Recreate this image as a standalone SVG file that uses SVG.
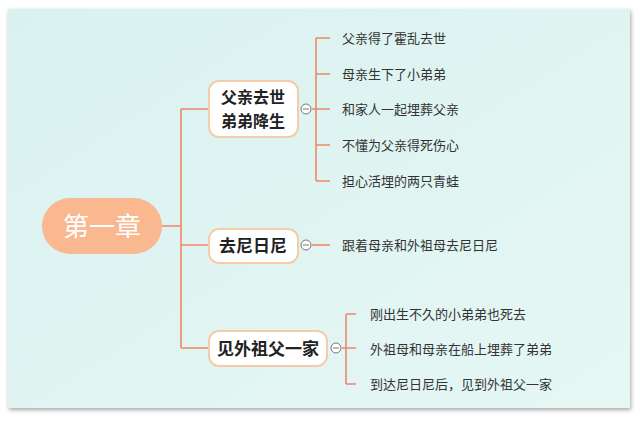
<svg xmlns="http://www.w3.org/2000/svg" width="640" height="424" viewBox="0 0 640 424">
<defs>
<linearGradient id="bg" x1="0" y1="0" x2="1" y2="1"><stop offset="0" stop-color="#d9f2f0"/><stop offset="1" stop-color="#e6f7f4"/></linearGradient>
<filter id="sh" x="-5%" y="-5%" width="110%" height="110%"><feDropShadow dx="1" dy="2" stdDeviation="2" flood-color="#000" flood-opacity="0.35"/></filter>
</defs>
<style>
.ln{stroke:#ef8766;stroke-width:1.6;fill:none}
.box{fill:#fff;stroke:#f5cba8;stroke-width:2}
.t1{font-family:"Noto Sans CJK SC",sans-serif;font-size:17px;font-weight:bold;fill:#222;text-anchor:middle}
.t2{font-family:"Noto Sans CJK SC",sans-serif;font-size:13px;fill:#333}
.cc{fill:#fff;stroke:#777;stroke-width:1}
</style>
<rect width="640" height="424" fill="#fff"/>
<rect x="8" y="9" width="622" height="399" fill="url(#bg)" filter="url(#sh)"/>
<g id="connectors">
<path class="ln" d="M162 226H181M181 109V348M181 109H209M181 245H209M181 348H209"/>
<path class="ln" d="M312 109H330M316 38V181M316 38H330M316 74H330M316 145H330M316 181H330"/>
<path class="ln" d="M312 245H330"/>
<path class="ln" d="M342 348H356M346 314V384M346 314H356M346 384H356"/>
</g>
<g id="root"><rect x="42" y="198" width="120" height="56" rx="28" fill="#f9b88f"/><text x="102" y="236" font-family="Noto Sans CJK SC,sans-serif" font-size="26" fill="#fff" text-anchor="middle">第一章</text></g>
<g id="n1"><rect class="box" x="209" y="81" width="89" height="56" rx="10"/><text class="t1" x="253" y="103" style="font-size:16px">父亲去世</text><text class="t1" x="253" y="127" style="font-size:16px">弟弟降生</text><circle class="cc" cx="306" cy="109" r="5"/><path d="M303 109H309" stroke="#777"/></g>
<g id="n2"><rect class="box" x="209" y="229" width="89" height="34" rx="10"/><text class="t1" x="253" y="252">去尼日尼</text><circle class="cc" cx="306" cy="245" r="5"/><path d="M303 245H309" stroke="#777"/></g>
<g id="n3"><rect class="box" x="209" y="331" width="118" height="35" rx="10"/><text class="t1" x="268" y="355">见外祖父一家</text><circle class="cc" cx="336" cy="348" r="5"/><path d="M333 348H339" stroke="#777"/></g>
<g id="leaves">
<text class="t2" x="342" y="43">父亲得了霍乱去世</text>
<text class="t2" x="342" y="79">母亲生下了小弟弟</text>
<text class="t2" x="342" y="114">和家人一起埋葬父亲</text>
<text class="t2" x="342" y="150">不懂为父亲得死伤心</text>
<text class="t2" x="342" y="186">担心活埋的两只青蛙</text>
<text class="t2" x="342" y="250">跟着母亲和外祖母去尼日尼</text>
<text class="t2" x="370" y="319">刚出生不久的小弟弟也死去</text>
<text class="t2" x="370" y="354">外祖母和母亲在船上埋葬了弟弟</text>
<text class="t2" x="370" y="389">到达尼日尼后，见到外祖父一家</text>
</g>
</svg>
